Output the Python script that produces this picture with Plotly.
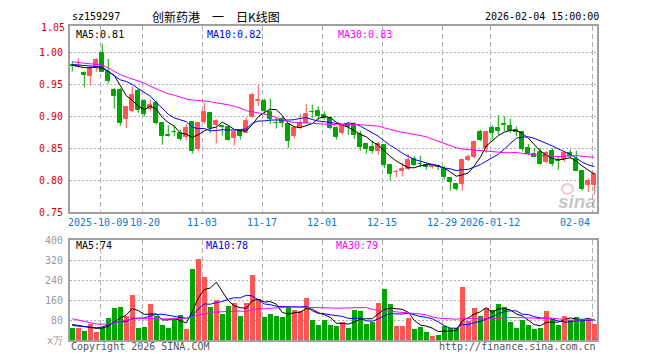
import pandas as pd
import plotly.graph_objects as go

# ---------------- data ----------------
holidays = ["2025-10-01", "2025-10-02", "2025-10-03", "2025-10-06", "2025-10-07", "2025-10-08",
            "2026-01-01", "2026-01-02"]
dates = [d.strftime("%Y-%m-%d") for d in pd.bdate_range("2025-09-24", "2026-02-04")
         if d.strftime("%Y-%m-%d") not in holidays]

opens = [0.980, 0.977, 0.968, 0.9635, 0.9766, 0.999, 0.970, 0.9406, 0.9416, 0.8963,
         0.9088, 0.939, 0.9245, 0.912, 0.9208, 0.8896, 0.8705, 0.876, 0.874, 0.867,
         0.891, 0.849, 0.891, 0.905, 0.886, 0.8855, 0.883, 0.866, 0.8776, 0.874,
         0.8984, 0.9245, 0.9245, 0.9067, 0.8895, 0.8963, 0.888, 0.870, 0.8817, 0.8896,
         0.907, 0.9078, 0.9026, 0.8974, 0.8817, 0.874, 0.886, 0.886, 0.8724, 0.8567,
         0.852, 0.8463, 0.8557, 0.8234, 0.8130, 0.814, 0.8177, 0.8338, 0.8260, 0.8244,
         0.8213, 0.8218, 0.8182, 0.8036, 0.7942, 0.7947, 0.8317, 0.8359, 0.8755, 0.8505,
         0.8817, 0.8817, 0.8872, 0.8843, 0.8791, 0.8755, 0.8505, 0.8411, 0.8442, 0.8286,
         0.8453, 0.8299, 0.8338, 0.8427, 0.8338, 0.815, 0.7932, 0.7932]
highs = [0.986, 0.991, 0.970, 0.978, 0.991, 1.0135, 0.9896, 0.944, 0.944, 0.916,
         0.9469, 0.9432, 0.9265, 0.926, 0.9245, 0.8896, 0.886, 0.886, 0.879, 0.888,
         0.891, 0.8896, 0.921, 0.9067, 0.895, 0.887, 0.8843, 0.8776, 0.879, 0.898,
         0.9364, 0.949, 0.9276, 0.9276, 0.8974, 0.900, 0.8896, 0.8843, 0.9036, 0.919,
         0.918, 0.9156, 0.908, 0.900, 0.8843, 0.886, 0.891, 0.891, 0.8776, 0.8567,
         0.862, 0.8598, 0.8557, 0.8244, 0.8166, 0.827, 0.841, 0.8375, 0.8385, 0.827,
         0.8255, 0.8244, 0.8229, 0.8046, 0.7942, 0.8338, 0.840, 0.861, 0.8791, 0.8755,
         0.8859, 0.9015, 0.900, 0.8963, 0.8843, 0.8755, 0.8567, 0.8505, 0.8505, 0.8453,
         0.8505, 0.8375, 0.8453, 0.8479, 0.8463, 0.8166, 0.8036, 0.8124]
lows = [0.970, 0.976, 0.945, 0.948, 0.969, 0.969, 0.951, 0.912, 0.885, 0.8817,
        0.9067, 0.9057, 0.900, 0.9078, 0.887, 0.8557, 0.868, 0.869, 0.862, 0.862,
        0.8416, 0.8453, 0.8885, 0.874, 0.858, 0.870, 0.862, 0.854, 0.8635, 0.874,
        0.8974, 0.9166, 0.9026, 0.888, 0.8807, 0.8828, 0.8505, 0.865, 0.880, 0.888,
        0.897, 0.8948, 0.8948, 0.880, 0.8635, 0.8713, 0.871, 0.8645, 0.8463, 0.8416,
        0.8416, 0.840, 0.8192, 0.7994, 0.8046, 0.8062, 0.816, 0.8223, 0.8203, 0.8166,
        0.8182, 0.816, 0.801, 0.7838, 0.7838, 0.7838, 0.8296, 0.8348, 0.8609, 0.8427,
        0.8635, 0.8713, 0.8765, 0.8739, 0.8687, 0.8453, 0.839, 0.8359, 0.8244, 0.8265,
        0.8218, 0.8166, 0.8286, 0.8338, 0.814, 0.7838, 0.7817, 0.7775]
closes = [0.978, 0.978, 0.964, 0.974, 0.9875, 0.970, 0.9557, 0.9323, 0.8896, 0.914,
          0.9338, 0.9104, 0.9036, 0.918, 0.890, 0.870, 0.870, 0.875, 0.864, 0.8817,
          0.8453, 0.8896, 0.9067, 0.8817, 0.893, 0.884, 0.8635, 0.8755, 0.870, 0.893,
          0.9338, 0.925, 0.9078, 0.8958, 0.889, 0.8896, 0.862, 0.8817, 0.8896, 0.9036,
          0.906, 0.901, 0.8974, 0.8817, 0.8677, 0.8843, 0.883, 0.8713, 0.852, 0.8494,
          0.8453, 0.8567, 0.8244, 0.8104, 0.8135, 0.8177, 0.8322, 0.8244, 0.8255, 0.8208,
          0.8218, 0.8213, 0.8046, 0.7973, 0.7869, 0.8322, 0.8364, 0.8599, 0.8635, 0.8755,
          0.8739, 0.8765, 0.8866, 0.8776, 0.8755, 0.8494, 0.8411, 0.8369, 0.8255, 0.8427,
          0.8255, 0.8296, 0.8421, 0.8375, 0.815, 0.7869, 0.7994, 0.8098]
volumes = [49, 49, 37, 65, 33, 52, 89, 129, 133, 97,
           181, 49, 53, 145, 95, 60, 49, 85, 101, 45,
           285, 325, 253, 133, 159, 105, 137, 148, 97, 147,
           259, 164, 93, 105, 96, 93, 131, 119, 117, 169,
           81, 60, 81, 60, 56, 73, 49, 121, 117, 65,
           73, 149, 205, 145, 57, 57, 89, 45, 53, 33,
           17, 21, 56, 49, 49, 213, 77, 129, 97, 129,
           121, 145, 133, 73, 49, 81, 61, 45, 49, 117,
           85, 61, 97, 81, 93, 80, 80, 65]

# moving-average values for the first days (their windows reach
# back before the first visible candle); later values follow from the data above
price_ma_head = {
    5: [0.980, 0.978, 0.976, 0.976],
    10: [0.981, 0.980, 0.979, 0.978, 0.978, 0.977, 0.970, 0.9635, 0.957],
    30: [0.985, 0.984, 0.983, 0.982, 0.981, 0.980, 0.9755, 0.970, 0.965, 0.9614,
         0.958, 0.9557, 0.952, 0.947, 0.943, 0.939, 0.935, 0.933, 0.930, 0.927,
         0.9255, 0.925, 0.924, 0.923, 0.921, 0.920, 0.918, 0.9156, 0.913],
}
vol_ma_head = {
    5: [62, 58, 52, 50],
    10: [58, 55, 52, 50, 49, 52, 60, 70, 73],
    30: [85, 80, 74, 68, 64, 63, 64, 70, 75, 80, 84, 85, 86, 86, 85, 84, 84, 84, 86, 87,
         94, 100, 106, 110, 112, 113, 114, 115, 116],
}

tick_dates = ["2025-10-09", "2025-10-20", "2025-11-03", "2025-11-17", "2025-12-01",
              "2025-12-15", "2025-12-29", "2026-01-12", "2026-02-04"]
tick_labels = ["2025-10-09", "10-20", "11-03", "11-17", "12-01", "12-15", "12-29", "2026-01-12", "02-04"]

price_ticks = [0.75, 0.80, 0.85, 0.90, 0.95, 1.00]
vol_ticks = [0, 80, 160, 240, 320, 400]
vol_tick_labels = ["x万", "80", "160", "240", "320", "400"]

title_code = "sz159297"
title_name = "创新药港\u3000一\u3000日K线图"
title_time = "2026-02-04 15:00:00"
ma_price_labels = ["MA5:0.81", "MA10:0.82", "MA30:0.83"]
ma_vol_labels = ["MA5:74", "MA10:78", "MA30:79"]

# ---------------- styling ----------------
RED = "#ff5555"
GREEN = "#00a600"
MA_COLORS = ["#000000", "#0000ff", "#ff00ff"]
GRID = "#b0b0b0"
FRAME = "#a0a0a0"
MONO = "DejaVu Sans Mono"
XLBL = "#1177cc"

n = len(dates)
xs = list(range(n))
up = [c >= o for o, c in zip(opens, closes)]
colors = [RED if u else GREEN for u in up]


def moving_avg(values, win, head):
    s = pd.Series(values, dtype=float).rolling(win).mean().tolist()
    return head + s[len(head):]


# page body has an 8px margin; work in reference pixel coords and shift
OFF = 8
W, H = 660 - OFF, 360 - OFF
L, T = 70 - OFF, 26 - OFF
R, B = W - (597 - OFF), H - (340 - OFF)
PW, PH = W - L - R, H - T - B


def px_x(X):
    return (X - OFF - L) / PW


def px_y(Y):
    return (H - B - (Y - OFF)) / PH


fig = go.Figure()

# wicks
for flag, col in [(True, RED), (False, GREEN)]:
    wx, wy = [], []
    for i in xs:
        if up[i] == flag:
            wx += [i, i, None]
            wy += [lows[i], highs[i], None]
    fig.add_trace(go.Scatter(x=wx, y=wy, mode="lines", line=dict(color=col, width=1),
                             xaxis="x", yaxis="y", hoverinfo="skip", showlegend=False))

# bodies
fig.add_trace(go.Bar(
    x=xs,
    y=[abs(c - o) for o, c in zip(opens, closes)],
    base=[min(o, c) for o, c in zip(opens, closes)],
    width=0.66,
    marker=dict(color=colors, line=dict(color=colors, width=1)),
    xaxis="x", yaxis="y", showlegend=False, hoverinfo="skip"))

# price MAs
for win, col in zip([5, 10, 30], MA_COLORS):
    fig.add_trace(go.Scatter(x=xs, y=moving_avg(closes, win, price_ma_head[win]), mode="lines",
                             line=dict(color=col, width=1), xaxis="x", yaxis="y",
                             hoverinfo="skip", showlegend=False))

# volume bars
fig.add_trace(go.Bar(x=xs, y=volumes, width=0.83, marker=dict(color=colors, line=dict(width=0)),
                     xaxis="x2", yaxis="y2", showlegend=False, hoverinfo="skip"))
for win, col in zip([5, 10, 30], MA_COLORS):
    fig.add_trace(go.Scatter(x=xs, y=moving_avg(volumes, win, vol_ma_head[win]), mode="lines",
                             line=dict(color=col, width=1), xaxis="x2", yaxis="y2",
                             hoverinfo="skip", showlegend=False))

tickpos = [dates.index(d) - 0.33 for d in tick_dates]

axis_common = dict(showline=True, mirror=True, linecolor=FRAME, linewidth=2, zeroline=False,
                   ticks="", fixedrange=True, automargin=False)
xgrid = dict(tickmode="array", tickvals=tickpos, showticklabels=False,
             showgrid=True, gridcolor=GRID, gridwidth=1, griddash="5px,3px")

fig.update_layout(
    width=W, height=H,
    margin=dict(l=L, r=R, t=T, b=B, pad=0, autoexpand=False),
    paper_bgcolor="white", plot_bgcolor="white",
    bargap=0, barmode="overlay",
    showlegend=False,
    xaxis=dict(domain=[0, 1], anchor="y", range=[-0.38, n - 1 + 0.45], **xgrid, **axis_common),
    yaxis=dict(domain=[px_y(212.3), 1], anchor="x", range=[0.75, 1.0411],
               tickmode="array", tickvals=price_ticks, tickformat=".2f",
               tickfont=dict(family=MONO, size=10, color="#e00000"),
               showgrid=True, gridcolor=GRID, gridwidth=1, griddash="2px,2px",
               ticklabelstandoff=3, **axis_common),
    xaxis2=dict(domain=[0, 1], anchor="y2", matches="x", range=[-0.38, n - 1 + 0.45],
                **xgrid, **axis_common),
    yaxis2=dict(domain=[0, px_y(240)], anchor="x2", range=[0, 400],
                tickmode="array", tickvals=vol_ticks, ticktext=vol_tick_labels,
                tickfont=dict(family=MONO, size=10, color="#9a9a9a"),
                showgrid=True, gridcolor=GRID, gridwidth=1, griddash="2px,2px",
                ticklabelstandoff=3, **axis_common),
)

ann = []


def add_text(text, X, Y, color="#000", size=10, anchor="left", family=MONO, ref_x="paper", xshift=0):
    ann.append(dict(text=text, x=X if ref_x != "paper" else px_x(X), y=px_y(Y),
                    xref=ref_x, yref="paper", xanchor=anchor, yanchor="middle", xshift=xshift,
                    showarrow=False, font=dict(family=family, size=size, color=color)))


# date labels under the price panel
shifts = [-2.5, 2.5, 0, 0, 0, 0, 0, 0, 0]
for k, (lbl, pos) in enumerate(zip(tick_labels, tickpos)):
    anchor = "right" if k == len(tick_labels) - 1 else "center"
    add_text(lbl, pos, 222, color=XLBL, anchor=anchor, ref_x="x", xshift=shifts[k])

add_text(title_code, 70, 17)
add_text(title_name, 150, 16.5, size=12, family="Noto Sans CJK SC")
add_text(title_time, 601, 17, anchor="right")
add_text("1.05", 67, 27.5, color="#e00000", anchor="right")
for lbl, X, col in zip(ma_price_labels, [74, 205, 336], MA_COLORS):
    add_text(lbl, X, 34, color=col)
for lbl, X, col in zip(ma_vol_labels, [74, 204, 334], MA_COLORS):
    add_text(lbl, X, 245.5, color=col)
add_text("Copyright 2026 SINA.COM", 69, 346, color="#555555")
add_text("http://finance.sina.com.cn", 598, 346, color="#555555", anchor="right")
add_text("<b><i>sina</i></b>", 577, 201, color="rgba(150,150,150,0.55)", size=19,
         anchor="center", family="Liberation Sans")
fig.update_layout(annotations=ann)

# faint red "eye" of the sina watermark
fig.add_shape(type="circle", xref="paper", yref="paper",
              x0=px_x(562), x1=px_x(573), y0=px_y(194), y1=px_y(184),
              line=dict(color="rgba(230,90,90,0.35)", width=2), fillcolor="rgba(255,255,255,0)")

fig.write_html("out.html")
